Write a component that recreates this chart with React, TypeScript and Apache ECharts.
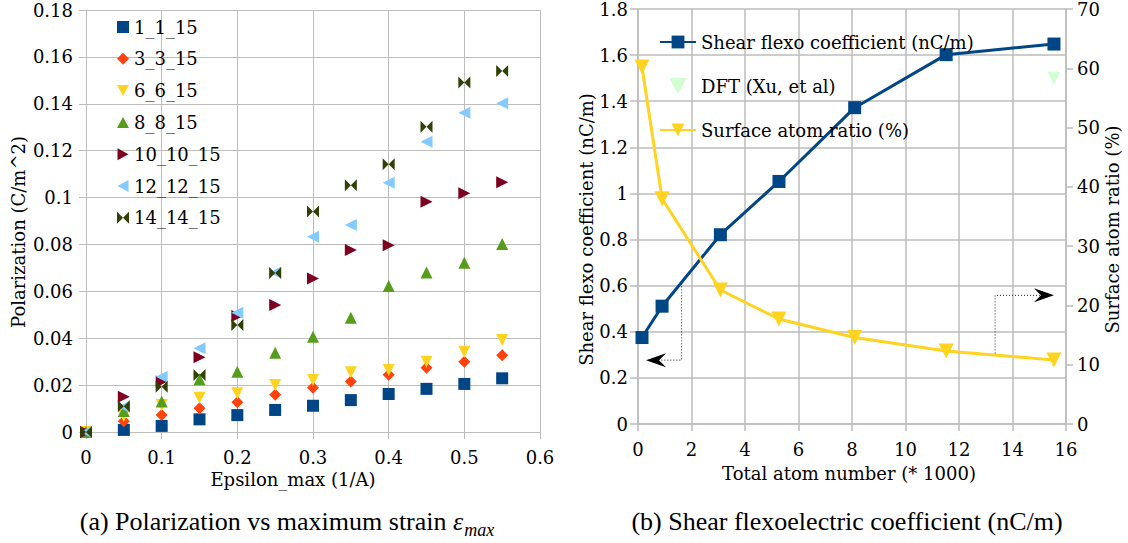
import React, { useEffect, useRef } from "react";
import * as echarts from "echarts";

// ---------- Left chart data ----------
const epsilon = [0, 0.05, 0.1, 0.15, 0.2, 0.25, 0.3, 0.35, 0.4, 0.45, 0.5, 0.55];
const s1_1_15 = [0, 0.0009, 0.0026, 0.0054, 0.0072, 0.0094, 0.0112, 0.0136, 0.0162, 0.0184, 0.0205, 0.0229];
const s3_3_15 = [0, 0.0046, 0.0072, 0.0101, 0.0127, 0.0159, 0.0189, 0.0215, 0.0244, 0.0274, 0.03, 0.0327];
const s6_6_15 = [0, 0.0068, 0.0115, 0.0146, 0.0165, 0.02, 0.0222, 0.0255, 0.0264, 0.03, 0.0342, 0.0392];
const s8_8_15 = [0, 0.009, 0.013, 0.0225, 0.0257, 0.0338, 0.0406, 0.0487, 0.0623, 0.068, 0.0722, 0.0802];
const s10_10_15 = [0, 0.015, 0.0215, 0.0319, 0.0495, 0.0542, 0.0655, 0.0776, 0.0797, 0.0982, 0.1018, 0.1065];
const s12_12_15 = [0, 0.0108, 0.0236, 0.0357, 0.0509, 0.068, 0.0833, 0.0883, 0.1063, 0.1238, 0.1362, 0.1402];
const s14_14_15 = [0, 0.011, 0.0193, 0.0243, 0.0456, 0.0678, 0.094, 0.1053, 0.1142, 0.1302, 0.1491, 0.154];

const leftNames = ["1_1_15", "3_3_15", "6_6_15", "8_8_15", "10_10_15", "12_12_15", "14_14_15"];
const leftValues = [s1_1_15, s3_3_15, s6_6_15, s8_8_15, s10_10_15, s12_12_15, s14_14_15];
const leftColors = ["#004586", "#ff420e", "#ffd320", "#579d1c", "#7e0021", "#83caff", "#314004"];
const leftSymbols = [
  "rect",
  "diamond",
  "path://M0,0L12,0L6,11Z",
  "path://M6,0L12,11L0,11Z",
  "path://M0,0L11,6L0,12Z",
  "path://M11,0L0,6L11,12Z",
  "path://M0,0L6,6L0,12ZM12,0L6,6L12,12Z",
];

// ---------- Right chart data ----------
const rightNames = ["Shear flexo coefficient (nC/m)", "DFT (Xu, et al)", "Surface atom ratio (%)"];
const atomsK = [0.15, 0.9, 3.08, 5.27, 8.1, 11.52, 15.55];
const shearFlexo = [0.375, 0.511, 0.821, 1.052, 1.372, 1.602, 1.648];
const surfaceRatio = [60.2, 38.0, 22.6, 17.7, 14.6, 12.3, 10.8];
const dftX = [15.55];
const dftY = [1.5];

// annotation arrows (data coords of the right chart)
const leftArrowX = 1.63;
const leftArrowYTop = 0.61;
const leftArrowYBottom = 0.277;
const leftArrowTipX = 0.3;
const rightArrowX = 13.35;
const rightArrowYBottom = 11.9;
const rightArrowYTop = 21.7;
const rightArrowTipX = 15.55;

const FONT = "DejaVu Serif";
const CAP_FONT = "Liberation Serif";
const GRID_COLOR = "#bdbdbd";
const FS = 18;

const richF = { f: { fontFamily: FONT, fontSize: FS, color: "#000", lineHeight: 18 } };
const wrap = (s: any) => `{f|${s}}`;

export default function App() {
  const ref = useRef<HTMLDivElement>(null);

  useEffect(() => {
    const chart = echarts.init(ref.current!, null, { renderer: "svg" });

    const axisLabel = (margin: number) => ({
      color: "#000",
      fontFamily: FONT,
      fontSize: FS,
      margin,
      formatter: (v: number) => wrap(String(v)),
      rich: richF,
    });
    const nameStyle = (padding?: number[]) => ({
      color: "#000",
      fontFamily: FONT,
      fontSize: FS,
      padding: padding || [0, 0, 0, 0],
      rich: richF,
    });
    const legendText = { color: "#000", fontFamily: FONT, fontSize: FS, rich: richF };

    const leftSeries = leftNames.map((name, i) => ({
      name,
      type: "scatter",
      xAxisIndex: 0,
      yAxisIndex: 0,
      symbol: leftSymbols[i],
      symbolSize: 12,
      itemStyle: { color: leftColors[i], opacity: 1 },
      data: epsilon.map((e, k) => [e, leftValues[i][k]]),
      z: 3,
    }));

    const option: any = {
      animation: false,
      backgroundColor: "#fff",
      textStyle: { fontFamily: FONT },
      grid: [
        { left: 86, top: 10, width: 454, height: 422, containLabel: false, outerBoundsMode: "none" },
        { left: 638, top: 9, width: 428, height: 415, containLabel: false, outerBoundsMode: "none" },
      ],
      legend: [
        {
          orient: "vertical",
          left: 117,
          top: 18,
          padding: 0,
          itemWidth: 12,
          itemHeight: 12,
          itemGap: 13.8,
          data: leftNames,
          formatter: (n: string) => wrap(n),
          textStyle: legendText,
        },
        {
          orient: "vertical",
          left: 659,
          top: 33,
          padding: 0,
          itemWidth: 36,
          itemHeight: 16,
          itemGap: 26,
          data: rightNames,
          formatter: (n: string) => wrap(n),
          textStyle: legendText,
        },
      ],
      xAxis: [
        {
          gridIndex: 0,
          type: "value",
          min: 0,
          max: 0.6,
          interval: 0.1,
          name: wrap("Epsilon_max (1/A)"),
          nameLocation: "middle",
          nameGap: 33,
          nameTextStyle: nameStyle([0, 40, 0, 0]),
          axisLine: { show: true, lineStyle: { color: GRID_COLOR, width: 1 } },
          axisTick: { show: true, length: 7, lineStyle: { color: GRID_COLOR } },
          axisLabel: axisLabel(16),
          splitLine: { show: true, lineStyle: { color: GRID_COLOR, width: 1 } },
        },
        {
          gridIndex: 1,
          type: "value",
          min: 0,
          max: 16,
          interval: 2,
          name: wrap("Total atom number (* 1000)"),
          nameLocation: "middle",
          nameGap: 40,
          nameTextStyle: nameStyle([0, 6, 0, 0]),
          axisLine: { show: true, lineStyle: { color: GRID_COLOR, width: 1.5 } },
          axisTick: { show: true, length: 7, lineStyle: { color: GRID_COLOR, width: 1.5 } },
          axisLabel: axisLabel(16),
          splitLine: { show: true, lineStyle: { color: GRID_COLOR, width: 1.5 } },
        },
      ],
      yAxis: [
        {
          gridIndex: 0,
          type: "value",
          min: 0,
          max: 0.18,
          interval: 0.02,
          name: wrap("Polarization (C/m^2)"),
          nameLocation: "middle",
          nameRotate: 90,
          nameGap: 59,
          nameTextStyle: nameStyle([0, 22, 0, 0]),
          axisLine: { show: true, lineStyle: { color: GRID_COLOR, width: 1 } },
          axisTick: { show: true, length: 7, lineStyle: { color: GRID_COLOR } },
          axisLabel: axisLabel(13),
          splitLine: { show: true, lineStyle: { color: GRID_COLOR, width: 1 } },
        },
        {
          gridIndex: 1,
          type: "value",
          min: 0,
          max: 1.8,
          interval: 0.2,
          name: wrap("Shear flexo coefficient (nC/m)"),
          nameLocation: "middle",
          nameRotate: 90,
          nameGap: 42,
          nameTextStyle: nameStyle([0, 26, 0, 0]),
          axisLine: { show: true, lineStyle: { color: GRID_COLOR, width: 1.5 } },
          axisTick: { show: true, length: 8, lineStyle: { color: GRID_COLOR, width: 1.5 } },
          axisLabel: axisLabel(10),
          splitLine: { show: true, lineStyle: { color: GRID_COLOR, width: 1.5 } },
        },
        {
          gridIndex: 1,
          type: "value",
          position: "right",
          min: 0,
          max: 70,
          interval: 10,
          name: wrap("Surface atom ratio (%)"),
          nameLocation: "middle",
          nameRotate: 90,
          nameGap: 37,
          nameTextStyle: nameStyle([0, 26, 0, 0]),
          axisLine: { show: true, lineStyle: { color: GRID_COLOR, width: 1.5 } },
          axisTick: { show: true, length: 7, lineStyle: { color: GRID_COLOR, width: 1.5 } },
          axisLabel: axisLabel(11),
          splitLine: { show: false },
        },
      ],
      series: [
        ...leftSeries,
        {
          name: rightNames[0],
          type: "line",
          xAxisIndex: 1,
          yAxisIndex: 1,
          symbol: "rect",
          symbolSize: 13,
          lineStyle: { color: "#004586", width: 3 },
          itemStyle: { color: "#004586" },
          data: atomsK.map((x, k) => [x, shearFlexo[k]]),
          z: 3,
        },
        {
          name: rightNames[1],
          type: "scatter",
          xAxisIndex: 1,
          yAxisIndex: 1,
          symbol: "path://M0,0L12,0L6,11Z",
          symbolSize: 13,
          itemStyle: { color: "#c6ffc6" },
          data: dftX.map((x, k) => [x, dftY[k]]),
          z: 3,
        },
        {
          name: rightNames[2],
          type: "line",
          xAxisIndex: 1,
          yAxisIndex: 2,
          symbol: "path://M0,0L12,0L6,11Z",
          symbolSize: 15,
          lineStyle: { color: "#ffd320", width: 3 },
          itemStyle: { color: "#ffd320" },
          data: atomsK.map((x, k) => [x, surfaceRatio[k]]),
          z: 4,
        },
      ],
    };

    chart.setOption(option);

    const shearIdx = leftNames.length;
    const surfIdx = leftNames.length + 2;
    const pL = (x: number, y: number) => chart.convertToPixel({ seriesIndex: shearIdx }, [x, y]) as number[];
    const pR = (x: number, y: number) => chart.convertToPixel({ seriesIndex: surfIdx }, [x, y]) as number[];

    const dotted = { stroke: "#222", lineWidth: 1, lineDash: [1, 2], fill: "none" };

    const a1 = pL(leftArrowX, leftArrowYTop);
    const a2 = pL(leftArrowX, leftArrowYBottom);
    const a3 = pL(leftArrowTipX, leftArrowYBottom);
    const b1 = pR(rightArrowX, rightArrowYBottom);
    const b2 = pR(rightArrowX, rightArrowYTop);
    const b3 = pR(rightArrowTipX, rightArrowYTop);

    const arrowHead = (tipX: number, tipY: number, dir: number) => ({
      type: "polygon",
      shape: {
        points: [
          [tipX, tipY],
          [tipX - dir * 20, tipY - 7],
          [tipX - dir * 13, tipY],
          [tipX - dir * 20, tipY + 7],
        ],
      },
      style: { fill: "#000" },
      z: 10,
    });

    const captionRich = {
      a: { fontFamily: CAP_FONT, fontSize: 26, color: "#000", lineHeight: 36 },
      e: { fontFamily: CAP_FONT, fontSize: 26, fontStyle: "italic", color: "#000", lineHeight: 36 },
      s: {
        fontFamily: CAP_FONT,
        fontSize: 18,
        fontStyle: "italic",
        color: "#000",
        lineHeight: 36,
        verticalAlign: "bottom",
        padding: [9, 0, 0, 1],
      },
    };

    chart.setOption({
      graphic: [
        { type: "polyline", shape: { points: [a1, a2, [a3[0] + 14, a3[1]]] }, style: dotted, z: 10 },
        arrowHead(a3[0], a3[1], -1),
        { type: "polyline", shape: { points: [b1, b2, [b3[0] - 14, b3[1]]] }, style: dotted, z: 10 },
        arrowHead(b3[0], b3[1], 1),
        {
          type: "text",
          x: 287,
          y: 521,
          style: {
            text: "{a|(a) Polarization vs maximum strain }{e|ε}{s|max}",
            rich: captionRich,
            align: "center",
            verticalAlign: "middle",
          },
          z: 10,
        },
        {
          type: "text",
          x: 847,
          y: 521,
          style: {
            text: "{a|(b) Shear flexoelectric coefficient (nC/m)}",
            rich: captionRich,
            align: "center",
            verticalAlign: "middle",
          },
          z: 10,
        },
      ],
    });

    return () => chart.dispose();
  }, []);

  return (
    <div
      ref={ref}
      style={{ position: "absolute", left: 0, top: 0, width: 1128, height: 543, background: "#fff" }}
    />
  );
}
